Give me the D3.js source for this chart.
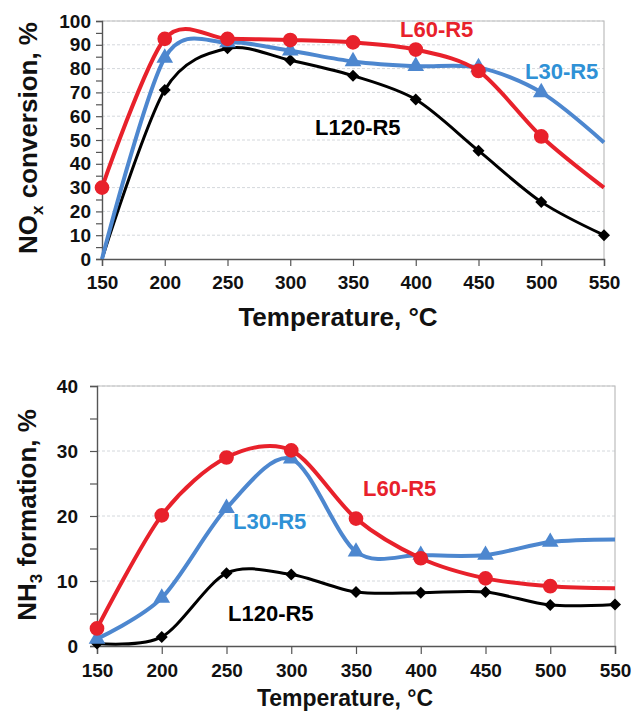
<!DOCTYPE html>
<html>
<head>
<meta charset="utf-8">
<script src="https://cdn.jsdelivr.net/npm/d3@7"></script>
<style>
  body { margin: 0; background: #fff; }
  svg text { font-family: "Liberation Sans", Arial, sans-serif; }
</style>
</head>
<body>
<div id="chart"></div>
<script>
// temperatures (°C)
const temps = [150, 200, 250, 300, 350, 400, 450, 500, 550];

// NOx conversion, %
const noxL60 = [30, 92.5, 92.5, 92, 91, 88, 79, 51.5, 30];
const noxL30 = [0, 84.5, 91, 87.5, 83, 81, 80.5, 70, 49];
const noxL120 = [0, 71, 88.5, 83.5, 77, 67, 45.5, 24, 10];

// NH3 formation, %
const nh3L60 = [2.7, 20.1, 29, 30.1, 19.6, 13.5, 10.4, 9.2, 8.9];
const nh3L30 = [1.1, 7.4, 21.2, 28.8, 14.5, 14, 14, 16, 16.4];
const nh3L120 = [0.4, 1.4, 11.2, 11, 8.3, 8.2, 8.3, 6.3, 6.4];

// which points carry a marker
const noxMarks = { L60: [0,1,2,3,4,5,6,7], L30: [1,2,3,4,5,6,7], L120: [1,2,3,4,5,6,7,8] };
const nh3Marks = { L60: [0,1,2,3,4,5,6,7], L30: [0,1,2,3,4,5,6,7], L120: [0,1,2,3,4,5,6,7,8] };

const xTicks = [150, 200, 250, 300, 350, 400, 450, 500, 550];

const RED = "#e8212b", BLUE = "#4d87cf", BLUE_TXT = "#2f91d6", BLACK = "#000";

const svg = d3.select("#chart").append("svg")
  .attr("width", 638)
  .attr("height", 711);

function panel(opt) {
  const x = d3.scaleLinear().domain([150, 550]).range([opt.left, opt.right]);
  const y = d3.scaleLinear().domain([0, opt.yMax]).range([opt.bottom, opt.top]);
  const g = svg.append("g");

  // grid lines
  g.selectAll("line.grid")
    .data(d3.range(opt.yStep, opt.yMax + 0.1, opt.yStep))
    .join("line")
    .attr("class", "grid")
    .attr("x1", opt.left).attr("x2", opt.right)
    .attr("y1", d => y(d)).attr("y2", d => y(d))
    .attr("stroke", "#d4d8dc")
    .attr("stroke-dasharray", "3,2");

  // frame top / right
  g.append("path")
    .attr("d", `M${opt.left},${opt.top}H${opt.right}V${opt.bottom}`)
    .attr("fill", "none")
    .attr("stroke", "#bdbdbd")
    .attr("stroke-width", 1.2);

  // y axis
  const ya = g.append("g")
    .attr("transform", `translate(${opt.left},0)`)
    .call(d3.axisLeft(y)
      .tickValues(d3.range(0, opt.yMax + 0.1, opt.yStep / 2))
      .tickSize(opt.tick)
      .tickPadding(opt.yPad)
      .tickFormat(d => (Math.round(d / opt.yStep * 100) % 100 === 0) ? d : ""));
  ya.select(".domain").attr("stroke", "#555").attr("stroke-width", 1.4);
  ya.selectAll(".tick line").attr("stroke", "#555").attr("stroke-width", 1.2);
  ya.selectAll("text")
    .attr("font-size", 19).attr("font-weight", "bold").attr("fill", "#111")
    .attr("font-family", "Liberation Sans, Arial, sans-serif");

  // x axis
  const xa = g.append("g")
    .attr("transform", `translate(0,${opt.bottom})`)
    .call(d3.axisBottom(x).tickValues(xTicks).tickSize(opt.tick + 1).tickPadding(opt.xPad));
  xa.select(".domain").attr("stroke", "#555").attr("stroke-width", 1.4);
  xa.selectAll(".tick line").attr("stroke", "#555").attr("stroke-width", 1.2);
  xa.selectAll("text")
    .attr("font-size", 19).attr("font-weight", "bold").attr("fill", "#111")
    .attr("font-family", "Liberation Sans, Arial, sans-serif");

  const line = d3.line()
    .x((d, i) => x(temps[i]))
    .y(d => y(d))
    .curve(d3.curveCardinal.tension(0.1));

  const clip = "clip" + opt.id;
  svg.append("defs").append("clipPath").attr("id", clip)
    .append("rect")
    .attr("x", opt.left - 10).attr("y", opt.top - 20)
    .attr("width", opt.right - opt.left + 20)
    .attr("height", opt.bottom - opt.top + 20);

  opt.series.forEach(s => {
    g.append("path")
      .datum(s.values)
      .attr("d", line)
      .attr("fill", "none")
      .attr("stroke", s.color)
      .attr("stroke-width", s.width)
      .attr("stroke-linejoin", "round")
      .attr("clip-path", `url(#${clip})`);
  });

  opt.series.forEach(s => {
    const sym = d3.symbol().type(s.symbol).size(s.size);
    g.selectAll(null)
      .data(s.marks)
      .join("path")
      .attr("d", sym)
      .attr("transform", i => `translate(${x(temps[i])},${y(s.values[i])}) rotate(${s.rot || 0})`)
      .attr("fill", s.color);
  });

  // series labels
  opt.labels.forEach(l => {
    g.append("text")
      .attr("x", l.x).attr("y", l.y)
      .attr("fill", l.color)
      .attr("font-family", "Lato, 'Open Sans', sans-serif")
      .attr("font-weight", "bold")
      .attr("font-size", 22)
      .text(l.text);
  });

  // x title
  g.append("text")
    .attr("x", opt.xTitleX).attr("y", opt.xTitleY)
    .attr("text-anchor", "middle")
    .attr("font-size", opt.xTitleSize).attr("font-weight", "bold").attr("fill", "#111")
    .text("Temperature, °C");

  // y title with subscript
  const yt = g.append("text")
    .attr("transform", `translate(${opt.yTitleX},${opt.yTitleY}) rotate(-90)`)
    .attr("text-anchor", "middle")
    .attr("font-size", 26).attr("font-weight", "bold").attr("fill", "#111");
  yt.append("tspan").text(opt.yTitle[0]);
  yt.append("tspan").attr("font-size", 17).attr("dy", 6).text(opt.yTitle[1]);
  yt.append("tspan").attr("dy", -6).text(opt.yTitle[2]);
}

panel({
  id: "a", left: 102, right: 604, top: 21, bottom: 259, yMax: 100, yStep: 10,
  tick: 6, yPad: 5, xPad: 10,
  xTitleX: 338, xTitleY: 326, xTitleSize: 26, yTitleX: 37, yTitleY: 138,
  yTitle: ["NO", "x", " conversion, %"],
  series: [
    { values: noxL120, marks: noxMarks.L120, color: BLACK, width: 3, symbol: d3.symbolSquare, rot: 45, size: 72 },
    { values: noxL30, marks: noxMarks.L30, color: BLUE, width: 4, symbol: d3.symbolTriangle, size: 120 },
    { values: noxL60, marks: noxMarks.L60, color: RED, width: 4, symbol: d3.symbolCircle, size: 170 }
  ],
  labels: [
    { text: "L60-R5", x: 400, y: 37, color: RED },
    { text: "L30-R5", x: 525, y: 79, color: BLUE_TXT },
    { text: "L120-R5", x: 315, y: 135, color: BLACK }
  ]
});

panel({
  id: "b", left: 97, right: 615, top: 386, bottom: 646, yMax: 40, yStep: 10,
  tick: 7, yPad: 12, xPad: 10,
  xTitleX: 345, xTitleY: 706, xTitleSize: 23, yTitleX: 36, yTitleY: 515,
  yTitle: ["NH", "3", " formation, %"],
  series: [
    { values: nh3L120, marks: nh3Marks.L120, color: BLACK, width: 3, symbol: d3.symbolSquare, rot: 45, size: 72 },
    { values: nh3L30, marks: nh3Marks.L30, color: BLUE, width: 4, symbol: d3.symbolTriangle, size: 120 },
    { values: nh3L60, marks: nh3Marks.L60, color: RED, width: 4, symbol: d3.symbolCircle, size: 170 }
  ],
  labels: [
    { text: "L60-R5", x: 363, y: 496, color: RED },
    { text: "L30-R5", x: 233, y: 529, color: BLUE_TXT },
    { text: "L120-R5", x: 228, y: 621, color: BLACK }
  ]
});
</script>
</body>
</html>
